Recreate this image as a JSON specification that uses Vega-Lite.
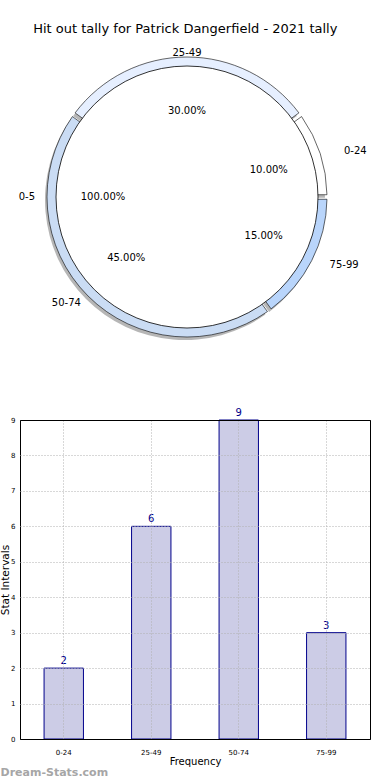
{
  "$schema": "https://vega.github.io/schema/vega-lite/v6.json",
  "autosize": {"type": "pad"},
  "padding": {"left": 0, "top": 23, "right": 18, "bottom": 0},
  "background": "white",
  "config": {
    "font": "DejaVu Sans",
    "view": {"stroke": null},
    "concat": {"spacing": 73},
    "title": {"font": "DejaVu Sans", "fontWeight": "normal", "color": "black"}
  },
  "title": {"text": "Hit out tally for Patrick Dangerfield - 2021 tally", "fontSize": 13, "anchor": "middle", "offset": -9},
  "bounds": "flush",
  "datasets": {
    "tally": [
      {"interval": "0-24", "count": 2, "pct": "10.00%"},
      {"interval": "25-49", "count": 6, "pct": "30.00%"},
      {"interval": "50-74", "count": 9, "pct": "45.00%"},
      {"interval": "75-99", "count": 3, "pct": "15.00%"}
    ],
    "inner": [
      {"interval": "0-5", "count": 1, "pct": "100.00%"}
    ]
  },
  "vconcat": [
    {
      "width": 334,
      "height": 300,
      "data": {"name": "tally"},
      "resolve": {"scale": {"theta": "independent"}},
      "layer": [
        {
          "mark": {"type": "arc", "outerRadius": 140, "innerRadius": 116, "padAngle": 0.025, "fill": "#7a7a7a", "opacity": 0.55, "xOffset": -2, "yOffset": 3},
          "encoding": {
            "theta": {"field": "count", "type": "quantitative", "stack": true, "scale": {"range": [1.5708, -4.7124]}},
            "order": {"field": "interval", "type": "ordinal"}
          }
        },
        {
          "mark": {"type": "arc", "outerRadius": 140, "innerRadius": 116, "padAngle": 0.025, "stroke": "black", "strokeWidth": 0.6},
          "encoding": {
            "theta": {"field": "count", "type": "quantitative", "stack": true, "scale": {"range": [1.5708, -4.7124]}},
            "order": {"field": "interval", "type": "ordinal"},
            "color": {"field": "interval", "type": "nominal", "legend": null,
              "scale": {"domain": ["0-24", "25-49", "50-74", "75-99"], "range": ["#ffffff", "#e6efff", "#cadcf4", "#b9d5fb"]}}
          }
        },
        {
          "data": {"name": "inner"},
          "mark": {"type": "arc", "outerRadius": 131, "fill": "white", "stroke": "black", "strokeWidth": 0.8},
          "encoding": {
            "theta": {"field": "count", "type": "quantitative", "stack": true, "scale": {"range": [1.5708, -4.7124]}}
          }
        },
        {
          "data": {"name": "inner"},
          "mark": {"type": "text", "radius": 84, "fontSize": 10, "color": "black"},
          "encoding": {
            "theta": {"field": "count", "type": "quantitative", "stack": true, "scale": {"range": [1.5708, -4.7124]}},
            "text": {"field": "pct", "type": "nominal"}
          }
        },
        {
          "data": {"name": "inner"},
          "mark": {"type": "text", "radius": 152, "fontSize": 10, "align": "right", "color": "black"},
          "encoding": {
            "theta": {"field": "count", "type": "quantitative", "stack": true, "scale": {"range": [1.5708, -4.7124]}},
            "text": {"field": "interval", "type": "nominal"}
          }
        },
        {
          "mark": {"type": "text", "radius": 86, "fontSize": 10, "color": "black"},
          "encoding": {
            "theta": {"field": "count", "type": "quantitative", "stack": true, "scale": {"range": [1.5708, -4.7124]}},
            "order": {"field": "interval", "type": "ordinal"},
            "text": {"field": "pct", "type": "nominal"}
          }
        },
        {
          "mark": {"type": "text", "radius": 165, "fontSize": 10, "align": "left", "baseline": "top", "color": "black"},
          "encoding": {
            "theta": {"field": "count", "type": "quantitative", "stack": true, "scale": {"range": [1.5708, -4.7124]}},
            "order": {"field": "interval", "type": "ordinal"},
            "text": {"condition": {"test": "datum.interval == '0-24'", "field": "interval", "type": "nominal"}, "value": ""}
          }
        },
        {
          "mark": {"type": "text", "radius": 160, "fontSize": 10, "align": "left", "baseline": "bottom", "color": "black"},
          "encoding": {
            "theta": {"field": "count", "type": "quantitative", "stack": true, "scale": {"range": [1.5708, -4.7124]}},
            "order": {"field": "interval", "type": "ordinal"},
            "text": {"condition": {"test": "datum.interval == '75-99'", "field": "interval", "type": "nominal"}, "value": ""}
          }
        },
        {
          "mark": {"type": "text", "radius": 144, "fontSize": 10, "align": "center", "color": "black"},
          "encoding": {
            "theta": {"field": "count", "type": "quantitative", "stack": true, "scale": {"range": [1.5708, -4.7124]}},
            "order": {"field": "interval", "type": "ordinal"},
            "text": {"condition": {"test": "datum.interval == '25-49'", "field": "interval", "type": "nominal"}, "value": ""}
          }
        },
        {
          "mark": {"type": "text", "radius": 150, "fontSize": 10, "align": "right", "color": "black"},
          "encoding": {
            "theta": {"field": "count", "type": "quantitative", "stack": true, "scale": {"range": [1.5708, -4.7124]}},
            "order": {"field": "interval", "type": "ordinal"},
            "text": {"condition": {"test": "datum.interval == '50-74'", "field": "interval", "type": "nominal"}, "value": ""}
          }
        }
      ]
    },
    {
      "width": 350,
      "height": 319,
      "data": {"name": "tally"},
      "view": {"stroke": "black", "strokeWidth": 1},
      "title": {"text": "Dream-Stats.com", "orient": "bottom", "anchor": "start", "offset": 1, "fontSize": 11, "fontWeight": "bold", "color": "#a6a6a6"},
      "encoding": {
        "x": {"field": "interval", "type": "nominal", "sort": ["0-24", "25-49", "50-74", "75-99"],
          "scale": {"paddingInner": 0, "paddingOuter": 0},
          "axis": {"title": "Frequency", "titleFontSize": 10, "titleFontWeight": "normal", "titlePadding": 1, "labelAngle": 0, "labelFontSize": 7, "labelPadding": 9, "ticks": false, "domain": false,
            "grid": true, "bandPosition": 0.5, "gridColor": "#b0b0b0", "gridDash": [1, 2], "gridWidth": 1, "zindex": 1}},
        "y": {"field": "count", "type": "quantitative", "scale": {"domain": [0, 9], "nice": false},
          "axis": {"title": "Stat Intervals", "titleFontSize": 10.5, "titleFontWeight": "normal", "titlePadding": 0, "values": [0, 1, 2, 3, 4, 5, 6, 7, 8, 9], "labelFontSize": 7, "labelPadding": 5, "ticks": false, "domain": false,
            "grid": true, "gridColor": {"condition": {"test": "datum.value == 9 || datum.value == 0", "value": "black"}, "value": "#b0b0b0"},
            "gridDash": {"condition": {"test": "datum.value == 9 || datum.value == 0", "value": []}, "value": [1, 2]}, "gridWidth": 1, "zindex": 1}}
      },
      "layer": [
        {
          "mark": {"type": "bar", "width": {"band": 0.45}, "fill": "#ccccE6", "stroke": "#00008b", "strokeWidth": 1}
        },
        {
          "mark": {"type": "text", "dy": -7, "fontSize": 10, "color": "#00008b"},
          "encoding": {"text": {"field": "count", "type": "quantitative"}}
        }
      ]
    }
  ]
}
